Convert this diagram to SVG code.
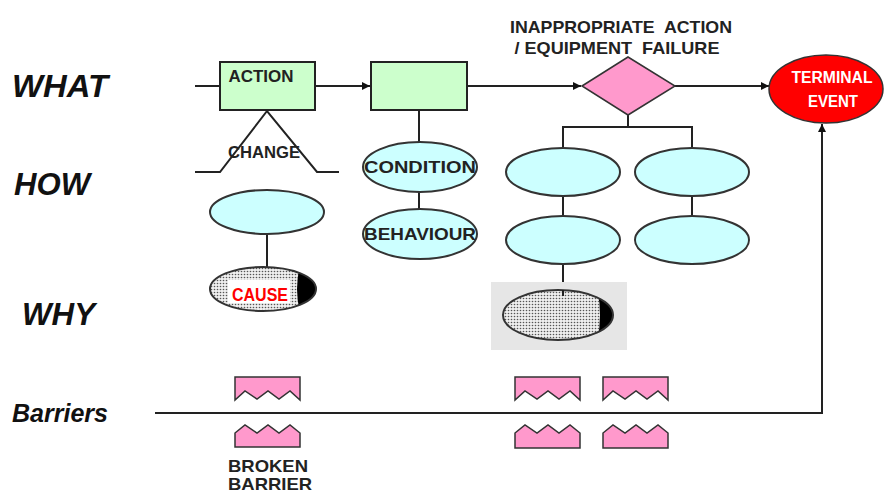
<svg xmlns="http://www.w3.org/2000/svg" width="884" height="494" viewBox="0 0 884 494">
<style>
.lbl{font-family:"Liberation Sans",Arial,sans-serif;font-weight:bold;font-style:italic;fill:#111}
.t{font-family:"Liberation Sans",Arial,sans-serif;font-weight:bold;font-size:17px;fill:#222;text-anchor:middle}
.ln{stroke:#222;stroke-width:2;fill:none}
.box{fill:#ccffcc;stroke:#222;stroke-width:2}
.ell{fill:#ccffff;stroke:#333;stroke-width:2}
.bar{fill:#ff99cc;stroke:#333;stroke-width:1.5}
.w{font-family:"Liberation Sans",Arial,sans-serif;font-weight:bold;font-size:16px;fill:#fff;text-anchor:middle}
</style>
<defs>
<marker id="ah" viewBox="0 0 10 10" refX="10" refY="5" markerWidth="4" markerHeight="4" orient="auto">
<path d="M0,0 L10,5 L0,10 z" fill="#111"/>
</marker>
<pattern id="dots" width="3" height="3" patternUnits="userSpaceOnUse">
<rect width="3" height="3" fill="#eeeeee"/>
<circle cx="1.5" cy="1.5" r="0.8" fill="#555"/>
</pattern>
<clipPath id="c1"><ellipse cx="263" cy="289" rx="53" ry="22"/></clipPath>
<clipPath id="c2"><ellipse cx="558" cy="315" rx="55" ry="25"/></clipPath>
</defs>
<rect width="884" height="494" fill="#fff"/>

<g id="labels">
<text class="lbl" x="12" y="97" font-size="31" textLength="96" lengthAdjust="spacingAndGlyphs">WHAT</text>
<text class="lbl" x="14" y="195" font-size="31" textLength="76" lengthAdjust="spacingAndGlyphs">HOW</text>
<text class="lbl" x="22" y="325" font-size="31" textLength="73" lengthAdjust="spacingAndGlyphs">WHY</text>
<text class="lbl" x="12" y="422" font-size="25" textLength="96" lengthAdjust="spacingAndGlyphs">Barriers</text>
</g>

<g id="connectors">
<line class="ln" x1="195" y1="86" x2="220" y2="86"/>
<line class="ln" x1="315" y1="86" x2="370" y2="86" marker-end="url(#ah)"/>
<line class="ln" x1="467" y1="86" x2="581" y2="86" marker-end="url(#ah)"/>
<line class="ln" x1="675" y1="86" x2="769" y2="86" marker-end="url(#ah)"/>
<polyline class="ln" points="195,172 220,172 267,111 317,172 339,172" stroke="#444"/>
<line class="ln" x1="267" y1="234" x2="267" y2="268"/>
<line class="ln" x1="419" y1="110" x2="419" y2="142"/>
<line class="ln" x1="419" y1="192" x2="419" y2="209"/>
<polyline class="ln" points="628,115 628,127"/>
<polyline class="ln" points="563,148 563,127 692,127 692,148"/>
<line class="ln" x1="563" y1="196" x2="563" y2="216"/>
<line class="ln" x1="692" y1="196" x2="692" y2="216"/>
<line class="ln" x1="563" y1="264" x2="563" y2="295"/>
<polyline class="ln" points="155,413 822,413 822,124" stroke="#444" marker-end="url(#ah)"/>
</g>

<g id="action">
<rect class="box" x="220" y="62" width="95" height="48"/>
<text class="t" x="261" y="82" textLength="65" lengthAdjust="spacingAndGlyphs">ACTION</text>
</g>
<g id="box2"><rect class="box" x="371" y="62" width="96" height="48"/></g>
<g id="change"><text class="t" x="264" y="158" textLength="72" lengthAdjust="spacingAndGlyphs">CHANGE</text></g>

<g id="failure">
<text class="t" x="621" y="33" fill="#333" textLength="222" lengthAdjust="spacingAndGlyphs" xml:space="preserve">INAPPROPRIATE  ACTION</text>
<text class="t" x="617" y="54" fill="#333" textLength="205" lengthAdjust="spacingAndGlyphs" xml:space="preserve">/ EQUIPMENT  FAILURE</text>
<polygon points="582,86 628,57 675,86 628,115" fill="#ff99cc" stroke="#333" stroke-width="1.5"/>
</g>

<g id="terminal">
<ellipse cx="826" cy="89" rx="57" ry="34" fill="#ff0000" stroke="#333" stroke-width="1.5"/>
<text class="w" x="832" y="83" textLength="81" lengthAdjust="spacingAndGlyphs">TERMINAL</text>
<text class="w" x="833" y="107" textLength="50" lengthAdjust="spacingAndGlyphs">EVENT</text>
</g>

<g id="how1"><ellipse class="ell" cx="267" cy="212" rx="57" ry="22"/></g>
<g id="cause">
<ellipse cx="263" cy="289" rx="53" ry="22" fill="url(#dots)"/>
<path d="M301,262 Q293,289 301,316 L330,316 L330,262 z" fill="#000" clip-path="url(#c1)"/>
<ellipse cx="263" cy="289" rx="53" ry="22" fill="none" stroke="#333" stroke-width="2"/>
<rect x="228" y="280" width="62" height="23" fill="#fff"/>
<text x="260" y="301" text-anchor="middle" font-family="'Liberation Sans',Arial,sans-serif" font-weight="bold" font-size="19" fill="#ff0000" textLength="56" lengthAdjust="spacingAndGlyphs">CAUSE</text>
</g>

<g id="condition">
<ellipse class="ell" cx="420" cy="167" rx="57" ry="25"/>
<text class="t" x="420" y="173" textLength="112" lengthAdjust="spacingAndGlyphs">CONDITION</text>
</g>
<g id="behaviour">
<ellipse class="ell" cx="420" cy="234" rx="57" ry="25"/>
<text class="t" x="420" y="240" textLength="112" lengthAdjust="spacingAndGlyphs">BEHAVIOUR</text>
</g>

<g id="how2"><ellipse class="ell" cx="563" cy="172" rx="57" ry="24"/></g>
<g id="how3"><ellipse class="ell" cx="563" cy="240" rx="57" ry="24"/></g>
<g id="how4"><ellipse class="ell" cx="692" cy="172" rx="57" ry="24"/></g>
<g id="how5"><ellipse class="ell" cx="692" cy="240" rx="57" ry="24"/></g>

<g id="why2">
<rect x="491" y="282" width="136" height="68" fill="#e6e6e6"/>
<ellipse cx="558" cy="315" rx="55" ry="25" fill="url(#dots)"/>
<path d="M597,288 Q603,315 597,342 L620,342 L620,288 z" fill="#000" clip-path="url(#c2)"/>
<ellipse cx="558" cy="315" rx="55" ry="25" fill="none" stroke="#333" stroke-width="2"/>
<line class="ln" x1="563" y1="290" x2="563" y2="296"/>
</g>

<g id="barriers">
<path class="bar" d="M235,377 H300 V400 L290,391 L279,399 L268,391 L257,399 L245,391 L235,400 z"/>
<path class="bar" d="M235,447 H300 V433 L290,425 L279,433 L268,425 L257,433 L245,425 L235,433 z"/>
<path class="bar" d="M515,377 H580 V400 L570,391 L559,399 L548,391 L537,399 L525,391 L515,400 z"/>
<path class="bar" d="M515,448 H580 V433 L570,425 L559,433 L548,425 L537,433 L525,425 L515,433 z"/>
<path class="bar" d="M603,377 H668 V400 L658,391 L647,399 L636,391 L625,399 L613,391 L603,400 z"/>
<path class="bar" d="M603,448 H668 V433 L658,425 L647,433 L636,425 L625,433 L613,425 L603,433 z"/>
<text class="t" x="268" y="472" font-size="15.5" textLength="80" lengthAdjust="spacingAndGlyphs">BROKEN</text>
<text class="t" x="270" y="490" font-size="15.5" textLength="84" lengthAdjust="spacingAndGlyphs">BARRIER</text>
</g>
</svg>
